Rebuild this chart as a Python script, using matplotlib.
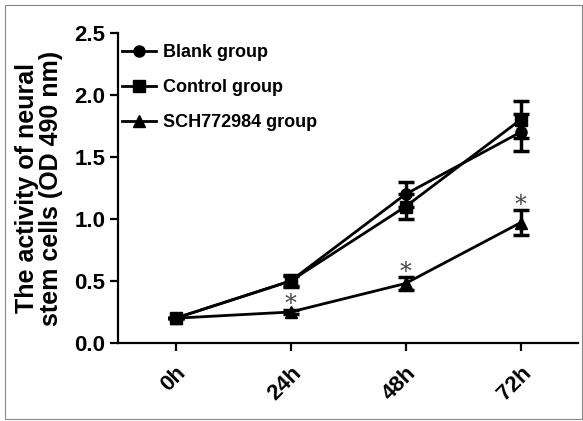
import matplotlib
matplotlib.use("Agg")
import matplotlib.pyplot as plt
from matplotlib.patches import Rectangle

categories = ["0h", "24h", "48h", "72h"]
blank = [0.20, 0.50, 1.20, 1.70]
blank_err = [0.0, 0.04, 0.10, 0.15]
control = [0.20, 0.50, 1.10, 1.80]
control_err = [0.0, 0.05, 0.10, 0.15]
sch = [0.20, 0.25, 0.48, 0.97]
sch_err = [0.0, 0.02, 0.05, 0.10]
star_idx = [1, 2, 3]
star_y = [0.31, 0.57, 1.11]
yticks = [0.0, 0.5, 1.0, 1.5, 2.0, 2.5]

plt.rcParams['font.family'] = ['Liberation Sans', 'DejaVu Sans']
plt.rcParams['font.weight'] = 'bold'

fig = plt.figure(figsize=(5.83, 4.21), dpi=100)
fig.patches.append(Rectangle((5/583, 2/421), 577/583, 414/421, transform=fig.transFigure,
                             fill=False, edgecolor='#888888', linewidth=0.8))
ax = fig.add_axes([118/583, 1-343/421, (578-118)/583, (343-33)/421])

x = list(range(len(categories)))
common = dict(color='black', linewidth=2, elinewidth=2.5, capsize=6, capthick=2.5,
              markersize=8)
c1 = ax.errorbar(x, blank, yerr=blank_err, marker='o', **common)
c2 = ax.errorbar(x, control, yerr=control_err, marker='s', **common)
c3 = ax.errorbar(x, sch, yerr=sch_err, marker='^', **common)

for i, yv in zip(star_idx, star_y):
    ax.text(x[i], yv, '*', ha='center', va='center', fontsize=17, color='#444444',
            fontweight='normal', family='DejaVu Serif')

ax.set_xlim(-0.5, 3.5)
ax.set_ylim(0, 2.5)
ax.set_yticks(yticks)
ax.set_yticklabels([f"{v:.1f}" for v in yticks])
ax.set_xticks(x)
ax.set_xticklabels(categories, rotation=45, ha='right', va='top', rotation_mode='anchor')

for s in ['top', 'right']:
    ax.spines[s].set_visible(False)
for s in ['left', 'bottom']:
    ax.spines[s].set_linewidth(1.6)
ax.tick_params(axis='both', width=1.6, length=6, labelsize=16, pad=3)
ax.tick_params(axis='x', pad=8)
for lbl in ax.get_xticklabels() + ax.get_yticklabels():
    lbl.set_fontweight('bold')

ax.set_ylabel('The activity of neural\nstem cells (OD 490 nm)', fontsize=18,
              fontweight='bold', labelpad=8, linespacing=1.0)

leg = ax.legend([c1[0], c2[0], c3[0]], ['Blank group', 'Control group', 'SCH772984 group'],
                loc='upper left', bbox_to_anchor=(0.008, 0.965), frameon=False,
                borderpad=0, borderaxespad=0, handlelength=1.9, handletextpad=0.4,
                labelspacing=1.0, prop={'weight': 'bold', 'size': 13})

fig.savefig('out.png', dpi=100)
